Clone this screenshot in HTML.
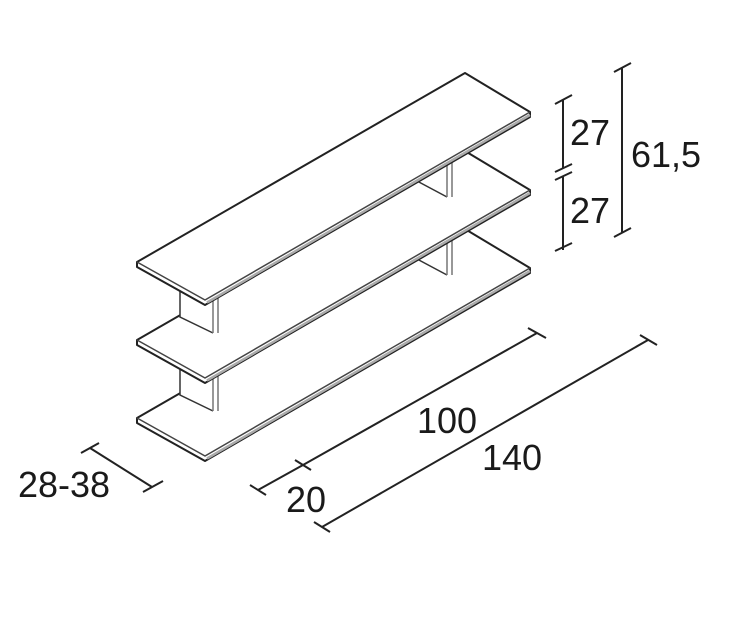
<!DOCTYPE html>
<html><head><meta charset="utf-8"><style>
html,body{margin:0;padding:0;background:#fff;}
svg{display:block;}
text{font-family:"Liberation Sans","DejaVu Sans",sans-serif;font-size:36px;fill:#1a1a1a;}
</style></head><body>
<svg width="731" height="641" viewBox="0 0 731 641" xmlns="http://www.w3.org/2000/svg">
<defs>
<g id="shelf">
  <path d="M137,262 L465,73 L530,112 L530,117 L205,305 L137,267 Z" fill="#fff" stroke="#222" stroke-width="2" stroke-linejoin="round"/>
  <path d="M137,262 L205,300 L530,112" fill="none" stroke="#444" stroke-width="1.5" stroke-linejoin="round"/>
  <path d="M207,302.5 L530,115" fill="none" stroke="#aaa" stroke-width="2.5"/>
</g>
<g id="sup">
  <path d="M180,280 L180,317 L213,333 L218,333 L218,290 Z" fill="#fff" stroke="none"/>
  <path d="M180,280 L180,317 L213,333" fill="none" stroke="#333" stroke-width="1.5"/>
  <path d="M213,296 L213,333 M218,296 L218,333" fill="none" stroke="#777" stroke-width="1.5"/>
  <path d="M417,160 L417,181 L447,197 L453,197 L453,150 Z" fill="#fff" stroke="none"/>
  <path d="M417,181 L447,197" fill="none" stroke="#333" stroke-width="1.5"/>
  <path d="M447,160 L447,197 M452,160 L452,197" fill="none" stroke="#777" stroke-width="1.5"/>
</g>
</defs>
<use href="#shelf" transform="translate(0,156)"/>
<use href="#sup" transform="translate(0,78)"/>
<use href="#shelf" transform="translate(0,78)"/>
<use href="#sup"/>
<use href="#shelf"/>

<g stroke="#222" stroke-width="2" fill="none">
  <line x1="303" y1="465" x2="537" y2="333"/>
  <line x1="528" y1="328" x2="546" y2="338"/>
  <line x1="258" y1="490" x2="303" y2="465"/>
  <line x1="250" y1="485" x2="266" y2="495"/>
  <line x1="295" y1="460" x2="311" y2="470"/>
  <line x1="322" y1="527" x2="648" y2="340"/>
  <line x1="314" y1="522" x2="330" y2="532"/>
  <line x1="640" y1="335" x2="657" y2="345"/>
  <line x1="90" y1="448" x2="152" y2="487"/>
  <line x1="81" y1="453" x2="99" y2="443"/>
  <line x1="143" y1="492" x2="163" y2="481"/>
  <line x1="563" y1="100" x2="563" y2="168"/>
  <line x1="563" y1="176" x2="563" y2="250"/>
  <line x1="555" y1="104" x2="572" y2="95"/>
  <line x1="555" y1="172" x2="572" y2="164"/>
  <line x1="555" y1="180" x2="572" y2="172"/>
  <line x1="555" y1="251" x2="572" y2="243"/>
  <line x1="622" y1="68" x2="622" y2="232"/>
  <line x1="614" y1="72" x2="631" y2="63"/>
  <line x1="614" y1="237" x2="631" y2="228"/>
</g>
<text x="570" y="145">27</text>
<text x="570" y="223">27</text>
<text x="631" y="167">61,5</text>
<text x="417" y="433">100</text>
<text x="482" y="470">140</text>
<text x="286" y="512">20</text>
<text x="18" y="497">28-38</text>
</svg>
</body></html>
